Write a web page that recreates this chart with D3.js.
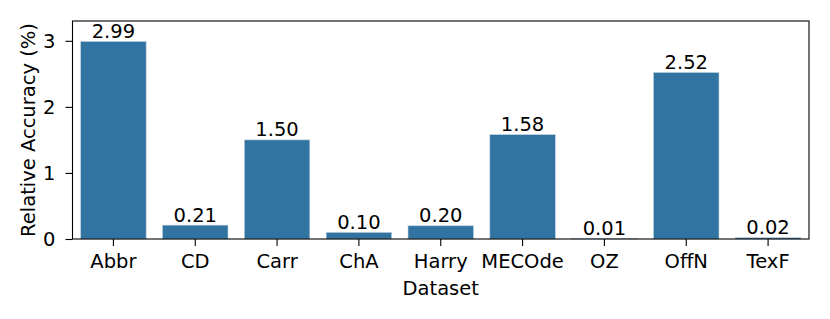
<!DOCTYPE html>
<html>
<head>
<meta charset="utf-8">
<script src="https://cdn.jsdelivr.net/npm/d3@7"></script>
<style>
  body { margin: 0; background: #fff; }
  text { font-family: "DejaVu Sans", sans-serif; fill: #000; }
</style>
</head>
<body>
<div id="chart"></div>
<script>
// Data
const datasets = ['Abbr', 'CD', 'Carr', 'ChA', 'Harry', 'MECOde', 'OZ', 'OffN', 'TexF']
const accuracy = [2.99, 0.21, 1.50, 0.10, 0.20, 1.58, 0.01, 2.52, 0.02]
const yTicks = [0, 1, 2, 3]

const width = 830, height = 319
const margin = { top: 21, right: 21, bottom: 80, left: 72.5 }
const fontSize = 19.5

const svg = d3.select('#chart')
    .append('svg')
    .attr('width', width)
    .attr('height', height)

const x = d3.scaleBand()
    .domain(datasets)
    .range([margin.left, width - margin.right])
    .paddingInner(0.2)
    .paddingOuter(0.1)

const y = d3.scaleLinear()
    .domain([0, 3.3])
    .range([height - margin.bottom, margin.top])

const rows = datasets.map((d, i) => ({ name: d, value: accuracy[i] }))

// Bars
svg.selectAll('.bar')
    .data(rows)
    .enter()
    .append('rect')
    .attr('class', 'bar')
    .attr('x', d => x(d.name))
    .attr('y', d => y(d.value))
    .attr('width', x.bandwidth())
    .attr('height', d => y(0) - y(d.value))
    .attr('fill', '#3274a1')
    .attr('stroke', '#bcd0e0')
    .attr('stroke-width', 0.6)

// Value labels
svg.selectAll('.bar-label')
    .data(rows)
    .enter()
    .append('text')
    .attr('class', 'bar-label')
    .attr('x', d => x(d.name) + x.bandwidth() / 2)
    .attr('y', d => y(d.value) - 3.5)
    .attr('text-anchor', 'middle')
    .style('font-size', fontSize + 'px')
    .text(d => d.value.toFixed(2))

// Axes
const xAxis = d3.axisBottom(x).tickSizeOuter(0).tickSize(7).tickPadding(7)
const gx = svg.append('g')
    .attr('transform', 'translate(0,' + y(0) + ')')
    .call(xAxis)
gx.select('.domain').remove()
gx.selectAll('line').attr('stroke', '#000').attr('stroke-width', 1.1)
gx.selectAll('text').style('font-size', fontSize + 'px').attr('dy', '0.75em')

const yAxis = d3.axisLeft(y).tickValues(yTicks).tickFormat(d3.format('d')).tickSize(7).tickPadding(10)
const gy = svg.append('g')
    .attr('transform', 'translate(' + margin.left + ',0)')
    .call(yAxis)
gy.select('.domain').remove()
gy.selectAll('line').attr('stroke', '#000').attr('stroke-width', 1.1)
gy.selectAll('text').style('font-size', fontSize + 'px')

// Frame
svg.append('rect')
    .attr('x', margin.left)
    .attr('y', margin.top)
    .attr('width', width - margin.right - margin.left)
    .attr('height', y(0) - margin.top)
    .attr('fill', 'none')
    .attr('stroke', '#000')
    .attr('stroke-width', 1.1)

// Axis labels
svg.append('text')
    .attr('x', (margin.left + width - margin.right) / 2)
    .attr('y', 295)
    .attr('text-anchor', 'middle')
    .style('font-size', fontSize + 'px')
    .text('Dataset')

svg.append('text')
    .attr('transform', 'translate(35,' + (margin.top + y(0)) / 2 + ') rotate(-90)')
    .attr('text-anchor', 'middle')
    .style('font-size', fontSize + 'px')
    .text('Relative Accuracy (%)')
</script>
</body>
</html>
